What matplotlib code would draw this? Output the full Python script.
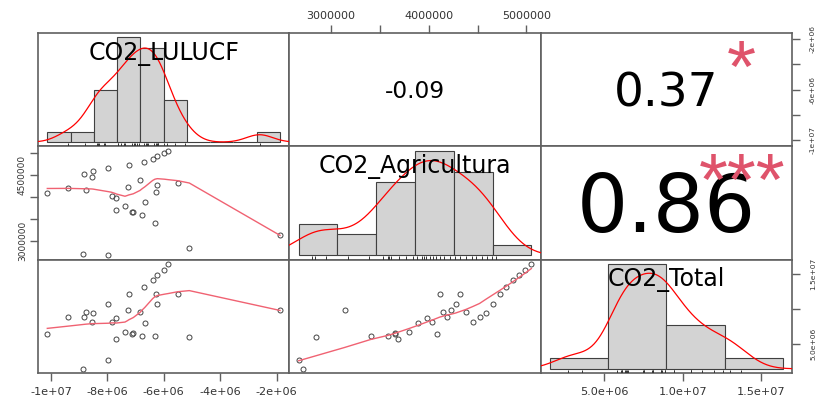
import math
import numpy as np
import matplotlib
matplotlib.use("Agg")
import matplotlib.pyplot as plt
from matplotlib import transforms

# one value per year
names = ["CO2_LULUCF", "CO2_Agricultura", "CO2_Total"]
co2_lulucf = np.array([
    -10.13e6, -9.385e6, -8.877e6, -8.83e6, -8.771e6, -8.558e6, -8.511e6,
    -7.967e6, -7.967e6, -7.849e6, -7.683e6, -7.707e6, -7.376e6, -7.281e6,
    -7.246e6, -7.128e6, -7.080e6, -6.844e6, -6.762e6, -6.702e6, -6.667e6,
    -6.395e6, -6.312e6, -6.277e6, -6.23e6, -6.23e6, -5.98e6, -5.839e6,
    -5.508e6, -5.095e6, -1.879e6])
co2_agricultura = np.array([
    4.09e6, 4.19e6, 2.71e6, 4.52e6, 4.145e6, 4.45e6, 4.585e6,
    4.66e6, 2.67e6, 4.03e6, 3.98e6, 3.69e6, 3.80e6, 4.23e6,
    4.73e6, 3.655e6, 3.66e6, 4.38e6, 3.585e6, 4.787e6, 3.887e6,
    4.86e6, 3.405e6, 4.112e6, 4.277e6, 4.928e6, 4.988e6, 5.05e6,
    4.32e6, 2.85e6, 3.14e6])
co2_total = np.array([
    6.50e6, 8.85e6, 1.52e6, 8.85e6, 9.55e6, 8.09e6, 9.50e6,
    10.68e6, 2.79e6, 8.09e6, 8.75e6, 5.79e6, 6.73e6, 9.88e6,
    12.085e6, 6.45e6, 6.59e6, 9.64e6, 6.17e6, 13.07e6, 8.00e6,
    14.056e6, 6.17e6, 12.085e6, 10.68e6, 14.86e6, 15.465e6, 16.40e6,
    12.085e6, 6.075e6, 9.90e6])

# histogram breaks
lulucf_breaks = [-11e6, -10e6, -9e6, -8e6, -7e6, -6e6, -5e6, -4e6, -3e6, -2e6, -1e6]
agri_breaks = [2.5e6, 3.0e6, 3.5e6, 4.0e6, 4.5e6, 5.0e6, 5.5e6]
total_breaks = [0, 5e6, 10e6, 15e6, 20e6]

# axis ticks and the labels that were kept
lulucf_ticks = [-1e7, -8e6, -6e6, -4e6, -2e6]
lulucf_bottom_labels = ["-1e+07", "-8e+06", "-6e+06", "-4e+06", "-2e+06"]
lulucf_right_labels = ["-1e+07", "", "-6e+06", "", "-2e+06"]
agri_ticks = [3.0e6, 3.5e6, 4.0e6, 4.5e6, 5.0e6]
agri_top_labels = ["3000000", "", "4000000", "", "5000000"]
agri_left_labels = ["3000000", "", "", "4500000", ""]
total_ticks = [5e6, 10e6, 15e6]
total_bottom_labels = ["5.0e+06", "1.0e+07", "1.5e+07"]
total_right_labels = ["5.0e+06", "", "1.5e+07"]

data = [co2_lulucf, co2_agricultura, co2_total]
breaks = [lulucf_breaks, agri_breaks, total_breaks]

frame_color = "#606060"
label_color = "#333333"
star_color = "#DF536B"


def lowess(x, y, f=2 / 3, iters=3):
    # port of R's clowess
    o = np.argsort(x, kind="mergesort")
    x = np.asarray(x, float)[o]
    y = np.asarray(y, float)[o]
    n = len(x)
    ns = max(2, min(n, int(f * n + 1e-7)))
    rng = x[-1] - x[0]
    delta = 0.01 * rng
    rw = np.ones(n)
    ys = np.zeros(n)
    idx = np.arange(n)

    def fit(i, nleft, nright, robust):
        h = max(x[i] - x[nleft], x[nright] - x[i])
        d = np.abs(x - x[i])
        w = np.zeros(n)
        near = (idx >= nleft) & (d <= 0.999 * h)
        if h > 0:
            w[near] = (1 - (d[near] / h) ** 3) ** 3
        w[near & (d <= 0.001 * h)] = 1.0
        if robust:
            w *= rw
        a = w.sum()
        if a <= 0:
            return y[i]
        w /= a
        if h > 0:
            a = np.sum(w * x)
            b = x[i] - a
            c = np.sum(w * (x - a) ** 2)
            if math.sqrt(c) > 0.001 * rng:
                b /= c
                w = w * (b * (x - a) + 1)
        return np.sum(w * y)

    for it in range(iters + 1):
        nleft, nright = 0, ns - 1
        last = -1
        i = 0
        while True:
            while nright < n - 1 and x[i] - x[nleft] > x[nright + 1] - x[i]:
                nleft += 1
                nright += 1
            ys[i] = fit(i, nleft, nright, it > 0)
            if last < i - 1:
                den = x[i] - x[last]
                for j in range(last + 1, i):
                    al = (x[j] - x[last]) / den
                    ys[j] = al * ys[i] + (1 - al) * ys[last]
            last = i
            cut = x[last] + delta
            j = last + 1
            while j < n:
                if x[j] > cut:
                    break
                if x[j] == x[last]:
                    ys[j] = ys[last]
                    last = j
                j += 1
            i = max(last + 1, j - 1)
            if last >= n - 1:
                break
        res = y - ys
        sc = np.mean(np.abs(res))
        if it == iters:
            break
        cmad = 6 * np.median(np.abs(res))
        if cmad < 1e-7 * sc:
            break
        r = np.abs(res)
        rw = np.where(r <= 0.001 * cmad, 1.0,
                      np.where(r <= 0.999 * cmad, (1 - (r / cmad) ** 2) ** 2, 0.0))
    return x, ys


def density(v):
    n = len(v)
    q75, q25 = np.percentile(v, [75, 25])
    bw = 0.9 * min(np.std(v, ddof=1), (q75 - q25) / 1.34) * n ** -0.2
    g = np.linspace(v.min() - 3 * bw, v.max() + 3 * bw, 512)
    d = np.exp(-0.5 * ((g[:, None] - v[None, :]) / bw) ** 2).sum(1)
    return g, d / (n * bw * math.sqrt(2 * math.pi))


def cor_pvalue(r, n):
    df = n - 2
    t = abs(r) * math.sqrt(df / (1 - r * r))
    g = np.linspace(0, t, 4001)
    c = math.exp(math.lgamma((df + 1) / 2) - math.lgamma(df / 2)) / math.sqrt(df * math.pi)
    pdf = c * (1 + g ** 2 / df) ** (-(df + 1) / 2)
    return 2 * (0.5 - np.trapezoid(pdf, g))


def stars(p):
    for cut, sym in [(0.001, "***"), (0.01, "**"), (0.05, "*"), (0.1, ".")]:
        if p <= cut:
            return sym
    return ""


W, H = 820, 404
X0, Y0 = 38, 33
PW, PH = (792 - 38) / 3, (373 - 33) / 3


def rect(i, j):
    return [(X0 + j * PW) / W, 1 - (Y0 + (i + 1) * PH) / H, PW / W, PH / H]


fig = plt.figure(figsize=(8.2, 4.04), dpi=100)
renderer = fig.canvas.get_renderer()

usr = [(v.min() - 0.04 * np.ptp(v), v.max() + 0.04 * np.ptp(v)) for v in data]
axes = {}
for i in range(3):
    for j in range(3):
        ax = fig.add_axes(rect(i, j))
        ax.set_xlim(usr[j])
        ax.set_ylim(usr[i])
        ax.set_xticks([])
        ax.set_yticks([])
        for s in ax.spines.values():
            s.set_color(frame_color)
            s.set_linewidth(1.2)
        ax.tick_params(colors=frame_color, labelcolor=label_color, length=5.5,
                       width=1.0, direction="out")
        axes[i, j] = ax


def xaxis(ax, ticks, labels, side, size, pad):
    ax.set_xticks(ticks, labels, fontsize=size)
    if side == "top":
        ax.xaxis.tick_top()
    ax.tick_params(axis="x", pad=pad)


def yaxis(ax, ticks, labels, side, size, pad):
    ax.set_yticks(ticks, labels, fontsize=size, rotation=90, va="center")
    if side == "right":
        ax.yaxis.tick_right()
    ax.tick_params(axis="y", pad=pad)


xaxis(axes[2, 0], lulucf_ticks, lulucf_bottom_labels, "bottom", 8.1, 4.6)
xaxis(axes[0, 1], agri_ticks, agri_top_labels, "top", 8.0, 3.2)
yaxis(axes[1, 0], agri_ticks, agri_left_labels, "left", 6.5, 2.4)
xaxis(axes[2, 2], total_ticks, total_bottom_labels, "bottom", 8.1, 4.6)
yaxis(axes[0, 2], lulucf_ticks, lulucf_right_labels, "right", 5.4, 7.5)
yaxis(axes[2, 2], total_ticks, total_right_labels, "right", 5.4, 7.5)

n = len(co2_total)
for i in range(3):
    for j in range(3):
        ax = axes[i, j]
        if i > j:
            ax.plot(data[j], data[i], "o", ms=3.6, mfc="none", mec="#444444", mew=0.7)
            lx, ly = lowess(data[j], data[i])
            ax.plot(lx, ly, color="#F06272", lw=1.0)
        elif i < j:
            r = np.corrcoef(data[j], data[i])[0, 1]
            txt = f"{r:.2f}"
            t = ax.text(0.5, 0.5, txt, ha="center", va="baseline", fontsize=10,
                        transform=ax.transAxes)
            w = t.get_window_extent(renderer).width
            fs = 10 * 0.8 * PW * (abs(r) + 0.3) / 1.3 / w
            t.set_fontsize(fs)
            t.set_transform(transforms.offset_copy(ax.transAxes, fig=fig, y=-0.3645 * fs,
                                                   units="points"))
            sym = stars(cor_pvalue(r, n))
            if sym:
                fs_star = 0.82 * fs * 1.3 / (abs(r) + 0.3)
                ax.text(0.8, 0.8, sym, ha="center", va="baseline", fontsize=fs_star,
                        color=star_color, family="Liberation Sans", clip_on=False,
                        transform=transforms.offset_copy(ax.transAxes, fig=fig,
                                                         y=-0.49 * fs_star, units="points"))
        else:
            v = data[i]
            b = np.array(breaks[i], float)
            k = np.clip(np.searchsorted(b, v, side="left") - 1, 0, len(b) - 2)
            counts = np.bincount(k, minlength=len(b) - 1)
            dens = counts / (len(v) * np.diff(b))
            hax = fig.add_axes(rect(i, i))
            hax.axis("off")
            hax.bar(b[:-1], dens, width=np.diff(b), align="edge", color="#D3D3D3",
                    edgecolor="#404040", lw=0.8)
            span = b[-1] - b[0]
            hax.set_xlim(b[0] - 0.04 * span, b[-1] + 0.04 * span)
            hax.set_ylim(-0.04 * dens.max(), 1.04 * dens.max())
            gx, gy = density(v)
            hax.plot(gx, gy, color="red", lw=0.9)
            hax.vlines(v, 0, 0.03, transform=hax.get_xaxis_transform(),
                       colors="#333333", lw=0.7)
            hax.text(0.5, 0.84, names[i], ha="center", va="baseline", fontsize=17,
                     transform=transforms.offset_copy(hax.transAxes, fig=fig,
                                                      y=-0.3645 * 17, units="points"))

fig.savefig("out.png", dpi=100)
